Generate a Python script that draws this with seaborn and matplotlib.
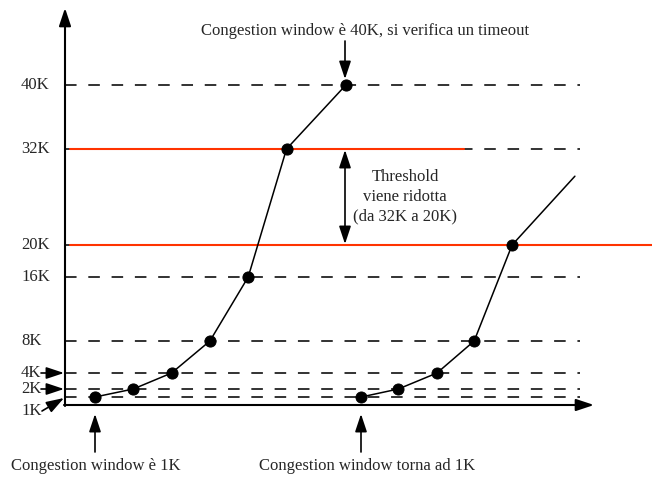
import numpy as np
import pandas as pd
import seaborn as sns
import matplotlib.pyplot as plt

# congestion window values (in K) per transmission round
levels = [1, 2, 4, 8, 16, 20, 32, 40]
level_labels = ['1K', '2K', '4K', '8K', '16K', '20K', '32K', '40K']
round1_x = [1, 2, 3, 4, 5, 6, 7.55]
round1_cw = [1, 2, 4, 8, 16, 32, 40]
round2_x = [7.95, 8.92, 9.93, 10.9, 11.89, 13.53]
round2_cw = [1, 2, 4, 8, 20, 28.6]
thresholds = [32, 20]

sns.set_theme(style='white')
plt.rcParams['font.family'] = ['Liberation Serif', 'DejaVu Serif']

W, H = 652, 484
fig = plt.figure(figsize=(W / 100, H / 100), dpi=100)
ax = fig.add_axes([0, 0, 1, 1])
ax.axis('off')

# pixel -> data helpers (x: 38.3 px per round, y: 8 px per K)
def X(px):
    return (px - 95) / 38.3 + 1
def Y(py):
    return (405 - py) / 8

red = '#ff3300'
fs = 12

# dashed reference lines
for lv in levels:
    ax.plot([X(65), X(580)], [lv, lv], color='#222222', lw=1.3,
            dashes=(6.4, 6.5), zorder=1)

# threshold lines
ax.plot([X(70), X(464)], [thresholds[0]] * 2, color=red, lw=1.5, zorder=2)
ax.plot([X(70), X(652)], [thresholds[1]] * 2, color=red, lw=1.5, zorder=2)

# axes as arrows
arrow = dict(arrowstyle='-|>,head_length=0.9,head_width=0.3', color='black',
             lw=1.5, shrinkA=0, shrinkB=0)
ax.annotate('', xy=(X(65), Y(8)), xytext=(X(65), Y(406)), arrowprops=arrow)
ax.annotate('', xy=(X(594), Y(405)), xytext=(X(64), Y(405)), arrowprops=arrow)

# congestion window curves
df1 = pd.DataFrame({'round': round1_x, 'cw': round1_cw})
df2 = pd.DataFrame({'round': round2_x, 'cw': round2_cw})
sns.lineplot(data=df1, x='round', y='cw', color='black', lw=1.1,
             marker='o', markersize=8, markeredgecolor='black', ax=ax, zorder=4)
sns.lineplot(data=df2, x='round', y='cw', color='black', lw=1.1, ax=ax, zorder=4)
sns.scatterplot(data=df2.iloc[:-1], x='round', y='cw', color='black', s=64,
                edgecolor='black', ax=ax, zorder=5)
ax.set_xlim(X(0), X(W))
ax.set_ylim(Y(H), Y(0))

# y labels
for lv, lab in zip(levels, level_labels):
    if lv <= 4:
        continue
    ax.text(X(21), lv, lab, fontsize=fs, ha='left', va='center')
small = dict(arrowstyle='-|>,head_length=0.9,head_width=0.3', color='black',
             lw=1.2, shrinkA=0, shrinkB=0)
ax.text(X(21), 4, '4K', fontsize=fs, ha='left', va='center')
ax.annotate('', xy=(X(64), 4), xytext=(X(41), 4), arrowprops=small)
ax.text(X(21), 2, '2K', fontsize=fs, ha='left', va='center')
ax.annotate('', xy=(X(64), 2), xytext=(X(41), 2), arrowprops=small)
ax.text(X(21), Y(411), '1K', fontsize=fs, ha='left', va='center')
ax.annotate('', xy=(X(64), Y(398)), xytext=(X(42), Y(411)), arrowprops=small)

# annotations
ax.text(X(365), Y(31), 'Congestion window è 40K, si verifica un timeout',
        fontsize=fs, ha='center', va='center')
ax.annotate('', xy=(X(345), Y(79)), xytext=(X(345), Y(41)), arrowprops=small)

ax.annotate('', xy=(X(345), Y(150)), xytext=(X(345), Y(244)),
            arrowprops=dict(arrowstyle='<|-|>,head_length=0.9,head_width=0.3',
                            color='black', lw=1.2, shrinkA=0, shrinkB=0))
ax.text(X(405), Y(197), 'Threshold\nviene ridotta\n(da 32K a 20K)',
        fontsize=fs, ha='center', va='center', linespacing=1.3)

ax.annotate('', xy=(X(95), Y(414)), xytext=(X(95), Y(452)), arrowprops=small)
ax.text(X(96), Y(466), 'Congestion window è 1K', fontsize=fs,
        ha='center', va='center')
ax.annotate('', xy=(X(361), Y(414)), xytext=(X(361), Y(452)), arrowprops=small)
ax.text(X(367), Y(466), 'Congestion window torna ad 1K', fontsize=fs,
        ha='center', va='center')

plt.savefig('out.png', dpi=100)
